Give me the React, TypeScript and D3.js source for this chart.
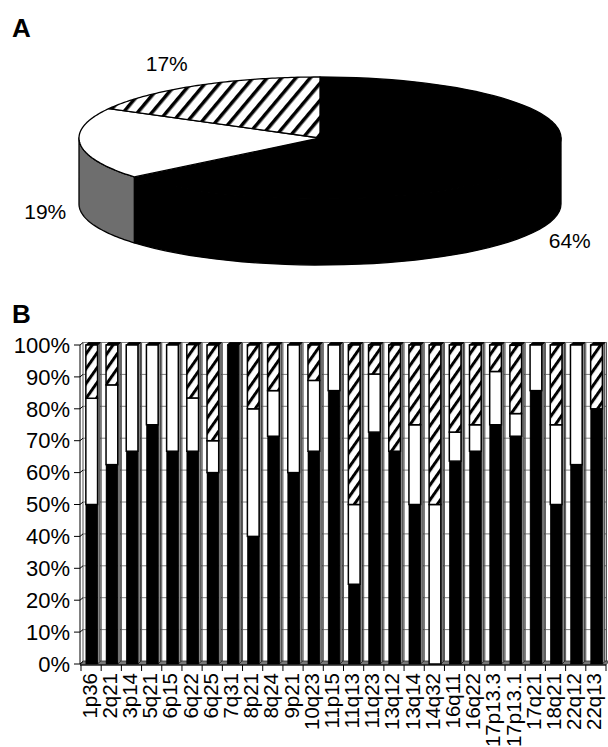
import React from 'react';
import * as d3 from 'd3';

// panel A
const pieLabels = ['64%', '19%', '17%'];
const pieValues = [64, 19, 17];

// panel B
const categories = ['1p36', '2q21', '3p14', '5q21', '6p15', '6q22', '6q25', '7q31', '8p21', '8q24', '9p21', '10q23', '11p15',
  '11q13', '11q23', '13q12', '13q14', '14q32', '16q11', '16q22', '17p13.3', '17p13.1', '17q21', '18q21', '22q12', '22q13'];
const blackPct = [50, 62.5, 66.7, 75, 66.7, 66.7, 60, 100, 40, 71.4, 60, 66.7, 85.7, 25, 72.7, 66.7, 50, 0, 63.6, 66.7, 75, 71.4, 85.7, 50, 62.5, 80];
const whitePct = [33.3, 25, 33.3, 25, 33.3, 16.7, 10, 0, 40, 14.3, 40, 22.2, 14.3, 25, 18.2, 0, 25, 50, 9.1, 8.3, 16.7, 7.1, 14.3, 25, 37.5, 0];
const hatchPct = [16.7, 12.5, 0, 0, 0, 16.7, 30, 0, 20, 14.3, 0, 11.1, 0, 50, 9.1, 33.3, 25, 50, 27.3, 25, 8.3, 21.4, 0, 25, 0, 20];
const yTicks = [0, 10, 20, 30, 40, 50, 60, 70, 80, 90, 100];

const FONT = '"Liberation Sans", Arial, Helvetica, sans-serif';

function PiePanel() {
  const cx = 320, cy = 138, rx = 241, ry = 61, depth = 66;
  const arcs = d3.pie<number>().sort(null)(pieValues);
  const pt = (a: number, dy = 0): [number, number] => [cx + rx * Math.sin(a), cy - ry * Math.cos(a) + dy];
  const line = d3.line();
  const topFill = ['#000', '#fff', 'url(#hatchA)'];
  const sideFill = ['#000', '#6e6e6e', '#6e6e6e'];

  const sides = arcs.map((d, i) => {
    const a0 = Math.max(d.startAngle, Math.PI / 2);
    const a1 = Math.min(d.endAngle, Math.PI * 1.5);
    if (a1 <= a0) return null;
    const ang = d3.range(41).map(k => a0 + (a1 - a0) * k / 40);
    const pts = [...ang.map(a => pt(a)), ...ang.slice().reverse().map(a => pt(a, depth))];
    return <path key={'s' + i} d={line(pts) + 'Z'} fill={sideFill[i]} stroke="#000" strokeWidth={1.3} strokeLinejoin="round" />;
  });

  const tops = arcs.map((d, i) => {
    const ang = d3.range(81).map(k => d.startAngle + (d.endAngle - d.startAngle) * k / 80);
    const pts: [number, number][] = [[cx, cy], ...ang.map(a => pt(a))];
    return <path key={'t' + i} d={line(pts) + 'Z'} fill={topFill[i]} stroke="#000" strokeWidth={1.3} strokeLinejoin="round" />;
  });

  // labels sit outside the rim; back labels pulled toward the vertical middle of the slice
  const labels = arcs.map((d, i) => {
    const m = (d.startAngle + d.endAngle) / 2;
    const front = Math.cos(m) < 0;
    const lx = cx + (rx + (front ? 35 : 60)) * Math.sin(m);
    const ly = cy - (ry + 25) * Math.cos(m) + (front ? depth : 0);
    return <text key={'l' + i} x={lx} y={ly} dy="0.35em" textAnchor="middle" fontSize={21} fontFamily={FONT}>{pieLabels[i]}</text>;
  });

  return (
    <g>
      <text x={12} y={37} fontSize={26} fontWeight="bold" fontFamily={FONT}>A</text>
      {sides}
      {tops}
      {labels}
    </g>
  );
}

function BarPanel() {
  const x = d3.scaleBand().domain(categories).range([81, 606]).padding(0);
  const y = d3.scaleLinear().domain([0, 100]).range([664, 345]);
  const bw = x.bandwidth();
  const barW = bw * 0.58;
  const off = bw * 0.24;
  const dx = 2.5, dy = 2.5;

  const rows = categories.map((c, i) => ({ cat: c, black: blackPct[i], white: whitePct[i], hatch: hatchPct[i] }));
  const keys = ['black', 'white', 'hatch'];
  const series = d3.stack<any>().keys(keys)(rows);
  const segFill: Record<string, string> = { black: '#000', white: '#fff', hatch: 'url(#hatchB)' };

  return (
    <g>
      <text x={12} y={323} fontSize={26} fontWeight="bold" fontFamily={FONT}>B</text>
      {/* back wall grid */}
      {yTicks.map(t => (
        <line key={'g' + t} x1={83} x2={607} y1={y(t) - dy} y2={y(t) - dy} stroke="#808080" strokeWidth={1} />
      ))}
      {categories.map((c, i) => i > 0 && (
        <line key={'v' + c} x1={x(c)!} x2={x(c)!} y1={y(0) - dy} y2={y(100) - dy} stroke="#555" strokeWidth={1} />
      ))}
      <line x1={606.5} x2={606.5} y1={y(0) - dy} y2={y(100) - dy} stroke="#555" />
      <line x1={83} x2={83} y1={y(0) - dy} y2={y(100) - dy} stroke="#555" />
      {/* floor */}
      <path d={`M80,${y(0) + 1}L606,${y(0) + 1}L609,${y(0) - 3}L83,${y(0) - 3}Z`} fill="#777" stroke="#333" strokeWidth={0.8} />
      {/* bars */}
      {categories.map(c => {
        const bx = x(c)! + off;
        return (
          <g key={'b' + c}>
            <path d={`M${bx + barW},${y(100)}L${bx + barW + dx},${y(100) - dy}L${bx + barW + dx},${y(0) - dy}L${bx + barW},${y(0)}Z`}
              fill="#8a8a8a" stroke="#000" strokeWidth={0.7} />
            <path d={`M${bx},${y(100)}L${bx + dx},${y(100) - dy}L${bx + barW + dx},${y(100) - dy}L${bx + barW},${y(100)}Z`}
              fill="#000" stroke="#000" strokeWidth={0.8} />
          </g>
        );
      })}
      {series.map(s => s.map((d: any, i: number) => {
        const h = y(d[0]) - y(d[1]);
        if (h <= 0.01) return null;
        const c = categories[i];
        return (
          <rect key={s.key + c} x={x(c)! + off} y={y(d[1])} width={barW} height={h}
            fill={segFill[s.key]} stroke="#000" strokeWidth={s.key === 'black' ? 0.5 : 1.5} />
        );
      }))}
      {/* axes */}
      <line x1={80} x2={80} y1={y(0)} y2={y(100)} stroke="#000" />
      <line x1={80} x2={606} y1={y(0) + 1} y2={y(0) + 1} stroke="#000" />
      {yTicks.map(t => (
        <g key={'t' + t}>
          <path d={`M74,${y(t)}L80,${y(t)}L83,${y(t) - dy}`} fill="none" stroke="#000" />
          <text x={70} y={y(t)} dy="0.35em" textAnchor="end" fontSize={22} fontFamily={FONT}>{t}%</text>
        </g>
      ))}
      {[...categories.map(c => x(c)!), 606].map((v, i) => (
        <line key={'xt' + i} x1={v} x2={v} y1={y(0) + 1} y2={y(0) + 7} stroke="#000" />
      ))}
      {categories.map(c => (
        <text key={'xl' + c} transform={`translate(${x(c)! + bw / 2 + 5.5},673) rotate(-90)`} textAnchor="end"
          fontSize={20.5} fontFamily={FONT}>{c}</text>
      ))}
    </g>
  );
}

export default function App() {
  return (
    <svg width={608} height={747} style={{ position: 'absolute', left: 0, top: 0, background: '#fff' }}>
      <defs>
        <pattern id="hatchA" patternUnits="userSpaceOnUse" width={6} height={11} patternTransform="rotate(-50)">
          <rect width={6} height={11} fill="#fff" />
          <rect width={6} height={3.5} fill="#000" />
        </pattern>
        <pattern id="hatchB" patternUnits="userSpaceOnUse" width={6} height={8.5} patternTransform="rotate(-55)">
          <rect width={6} height={8.5} fill="#fff" />
          <rect width={6} height={3} fill="#000" />
        </pattern>
      </defs>
      <PiePanel />
      <BarPanel />
    </svg>
  );
}
